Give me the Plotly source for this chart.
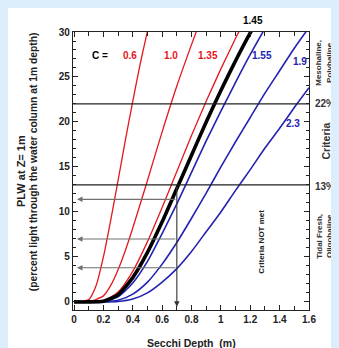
import plotly.graph_objects as go

# ---- data ----
secchi_06 = [0, 0.1, 0.15, 0.2, 0.25, 0.3, 0.35, 0.4, 0.45, 0.5]
plw_06 = [0, 0.25, 1.8, 5.0, 9.1, 13.5, 18.0, 22.3, 26.4, 30.1]

secchi_10 = [0, 0.1, 0.2, 0.25, 0.3, 0.35, 0.4, 0.5, 0.6, 0.7, 0.8, 0.85]
plw_10 = [0, 0, 0.67, 1.83, 3.57, 5.74, 8.21, 13.5, 18.9, 24.0, 28.6, 30.8]

secchi_135 = [0, 0.1, 0.2, 0.3, 0.4, 0.5, 0.6, 0.7, 0.8, 0.9, 1.0, 1.1, 1.15]
plw_135 = [0, 0, 0.12, 1.1, 3.4, 6.7, 10.5, 14.5, 18.5, 22.3, 25.9, 29.3, 30.9]

secchi_145 = [0, 0.1, 0.2, 0.3, 0.4, 0.5, 0.6, 0.7, 0.8, 0.9, 1.0, 1.1, 1.2, 1.25]
plw_145 = [0, 0, 0.07, 0.8, 2.7, 5.5, 8.9, 12.6, 16.3, 20.0, 23.5, 26.8, 29.9, 31.3]

secchi_155 = [0, 0.1, 0.2, 0.3, 0.4, 0.5, 0.6, 0.7, 0.8, 0.9, 1.0, 1.1, 1.2, 1.3]
plw_155 = [0, 0, 0.04, 0.57, 2.1, 4.5, 7.6, 10.9, 14.4, 17.9, 21.2, 24.4, 27.5, 30.4]

secchi_19 = [0, 0.1, 0.2, 0.3, 0.4, 0.5, 0.6, 0.7, 0.8, 0.9, 1.0, 1.1, 1.2, 1.3, 1.4, 1.5, 1.6]
plw_19 = [0, 0, 0.01, 0.18, 0.87, 2.2, 4.2, 6.6, 9.3, 12.1, 15.0, 17.8, 20.5, 23.2, 25.7, 28.2, 30.5]

secchi_23 = [0, 0.1, 0.2, 0.3, 0.4, 0.5, 0.6, 0.7, 0.8, 0.9, 1.0, 1.1, 1.2, 1.3, 1.4, 1.5, 1.6]
plw_23 = [0, 0, 0, 0.05, 0.32, 1.0, 2.2, 3.7, 5.6, 7.8, 10.0, 12.4, 14.7, 17.1, 19.3, 21.6, 23.8]

criteria_levels = [22, 13]
criteria_labels = ["22%", "13%"]
arrow_levels = [11.4, 7.0, 3.8]
secchi_target = 0.7

c_labels = ["0.6", "1.0", "1.35", "1.55", "1.9", "2.3"]
c_label_x = [0.38, 0.66, 0.91, 1.28, 1.54, 1.49]
c_label_y = [27.4, 27.4, 27.4, 27.4, 26.7, 19.8]
black_label = "1.45"
black_label_x = 1.22

RED = "#e5161e"
BLUE = "#2323b0"
FONT = "Arial, Liberation Sans, sans-serif"

fig = go.Figure()

series = [
    (secchi_06, plw_06, RED, 1.3),
    (secchi_10, plw_10, RED, 1.3),
    (secchi_135, plw_135, RED, 1.3),
    (secchi_155, plw_155, BLUE, 1.6),
    (secchi_19, plw_19, BLUE, 1.6),
    (secchi_23, plw_23, BLUE, 1.6),
    (secchi_145, plw_145, "black", 3.6),
]
for xs, ys, col, w in series:
    fig.add_trace(go.Scatter(x=xs, y=ys, mode="lines",
                             line=dict(color=col, width=w, shape="spline", smoothing=0.6),
                             showlegend=False, hoverinfo="skip"))

# criteria lines
for lv in criteria_levels:
    fig.add_shape(type="line", xref="paper", yref="y", x0=0, x1=1, y0=lv, y1=lv,
                  line=dict(color="#222222", width=1.3), layer="above")

# gray arrows pointing to y axis
for lv in arrow_levels:
    fig.add_annotation(x=0.02, y=lv, ax=secchi_target, ay=lv, xref="x", yref="y",
                       axref="x", ayref="y", text="", showarrow=True,
                       arrowhead=2, arrowsize=1, arrowwidth=1.1, arrowcolor="#707070")

# vertical arrow at target secchi
fig.add_annotation(x=secchi_target, y=-0.55, ax=secchi_target, ay=criteria_levels[1],
                   xref="x", yref="y", axref="x", ayref="y", text="", showarrow=True,
                   arrowhead=2, arrowsize=1, arrowwidth=1.1, arrowcolor="#333333")


def label(text, x, y, size, color, xref="x", yref="y", angle=0):
    fig.add_annotation(x=x, y=y, xref=xref, yref=yref, text=text, showarrow=False,
                       xanchor="center", yanchor="middle", textangle=angle,
                       font=dict(family=FONT, size=size, color=color, weight="bold"))


# C labels
label("C =", 0.18, 27.4, 10, "black")
label_colors = [RED, RED, RED, BLUE, BLUE, BLUE]
for t, x, y, c in zip(c_labels, c_label_x, c_label_y, label_colors):
    label(t, x, y, 10, c)
label(black_label, black_label_x, 1.043, 10, "black", yref="paper")

label("Criteria NOT met", 1.28, 6.7, 8, "#222222", angle=-90)

# right side labels
for t, y in zip(criteria_labels, [22.1, 12.8]):
    label(t, 1.068, y, 10, "#333333", xref="paper")
label("Mesohaline,<br>Polyhaline", 1.062, 0.888, 8, "#333333", xref="paper", yref="paper", angle=-90)
label("Criteria", 1.07, 0.608, 10.5, "#333333", xref="paper", yref="paper", angle=-90)
label("Tidal Fresh,<br>Oligohaline", 1.062, 0.266, 8, "#333333", xref="paper", yref="paper", angle=-90)

# axis titles
label("Secchi Depth  (m)", 0.504, -0.118, 10.5, "#222222", xref="paper", yref="paper")
label("PLW at Z= 1m", -0.22, 0.5, 11, "#222222", xref="paper", yref="paper", angle=-90)
label("(percent light through the water column at 1m depth)", -0.17, 0.535, 10.3,
      "#222222", xref="paper", yref="paper", angle=-90)

axis_common = dict(showline=True, linecolor="#222222", linewidth=1.3, mirror="ticks",
                   ticks="inside", tickcolor="#222222", showgrid=False, zeroline=False,
                   automargin=False,
                   tickfont=dict(family=FONT, size=10, color="#222222", weight="bold"))
fig.update_xaxes(range=[-0.007, 1.6], dtick=0.2, tick0=0, ticklen=5, tickwidth=1.2,
                 minor=dict(dtick=0.1, ticks="inside", ticklen=4, tickcolor="#222222"),
                 **axis_common)
fig.update_yaxes(range=[-0.9, 30], dtick=5, tick0=0, ticklen=5, tickwidth=1.2,
                 minor=dict(dtick=1, ticks="inside", ticklen=3, tickcolor="#222222"),
                 **axis_common)

# page has an 8px body margin; figure coordinates are offset accordingly
fig.update_layout(width=339, height=348,
                  margin=dict(l=65, r=38, t=24, b=46),
                  paper_bgcolor="white", plot_bgcolor="white",
                  showlegend=False)

fig.write_html(
    "out.html",
    post_script="document.body.style.background='#dceefc';"
                "document.body.style.overflow='hidden';"
                "document.documentElement.style.overflow='hidden';",
)
